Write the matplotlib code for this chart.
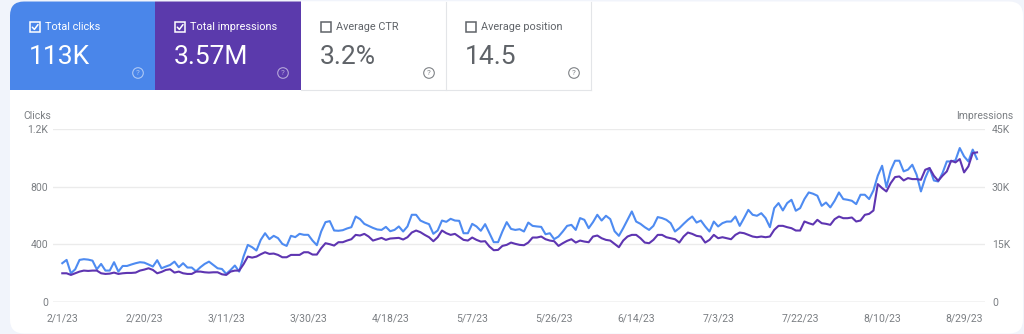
import matplotlib.pyplot as plt
import pandas as pd
from matplotlib.patches import Circle, FancyBboxPatch, Rectangle

plt.rcParams["font.family"] = ["Roboto", "DejaVu Sans"]

# Daily performance, one value per day starting at START_DATE.
START_DATE = "2023-02-01"
CLICKS = [
    269, 292, 199, 227, 292, 297, 294, 287, 227, 264,
    218, 218, 276, 211, 250, 250, 260, 269, 276, 273,
    260, 246, 290, 234, 246, 257, 280, 241, 269, 239,
    239, 213, 241, 264, 280, 257, 234, 229, 195, 222,
    253, 211, 315, 396, 380, 357, 431, 477, 436, 459,
    443, 403, 389, 459, 450, 473, 466, 466, 426, 394,
    489, 554, 561, 496, 494, 498, 510, 519, 593, 575,
    542, 528, 514, 503, 500, 521, 491, 500, 524, 489,
    524, 605, 605, 565, 551, 540, 473, 496, 565, 556,
    577, 565, 563, 477, 477, 542, 524, 494, 540, 477,
    415, 415, 489, 554, 507, 500, 505, 489, 551, 528,
    524, 521, 470, 477, 436, 454, 489, 528, 535, 500,
    582, 570, 512, 554, 605, 565, 598, 575, 491, 459,
    512, 570, 628, 558, 542, 519, 500, 528, 589, 582,
    570, 547, 489, 512, 542, 570, 593, 551, 565, 524,
    489, 558, 524, 547, 558, 558, 593, 528, 582, 639,
    605, 598, 616, 582, 519, 651, 686, 635, 686, 709,
    633, 651, 714, 760, 751, 737, 667, 690, 656, 702,
    760, 714, 709, 702, 679, 744, 744, 714, 774, 876,
    945, 797, 913, 980, 980, 906, 918, 952, 883, 767,
    860, 929, 843, 836, 894, 975, 975, 982, 1068, 1010,
    975, 1057, 992,
]
IMPRESSIONS = [
    7470, 7470, 7040, 7470, 7910, 8170, 8080, 8170, 8170, 7470,
    7300, 7380, 7650, 7300, 7470, 7560, 7560, 7650, 8170, 8430,
    8770, 8340, 7470, 7820, 8340, 8510, 7650, 7910, 7470, 7300,
    7300, 7910, 7910, 7730, 7650, 7730, 7730, 7210, 7040, 7910,
    8170, 8170, 9820, 11810, 11550, 11810, 12420, 12940, 12510, 12600,
    12250, 11640, 11640, 12250, 12250, 12250, 12940, 12940, 12340, 12340,
    13990, 15290, 15030, 14680, 15550, 15550, 15980, 16330, 17460, 17290,
    17720, 17030, 15980, 16330, 16680, 16160, 16510, 16590, 16680, 16250,
    16850, 18070, 18590, 18160, 17460, 16850, 15810, 16850, 18590, 17900,
    17460, 17720, 16940, 16160, 15980, 16770, 16160, 15720, 15810, 14420,
    13470, 13550, 14590, 14860, 15460, 15120, 14860, 14770, 15460, 16770,
    16770, 17030, 16330, 15980, 15810, 14590, 15290, 15900, 16330, 15460,
    15980, 15720, 15550, 17030, 17290, 16590, 16160, 15980, 15120, 14250,
    15980, 17030, 17460, 17460, 16590, 15460, 15290, 16160, 17460, 17460,
    16850, 16590, 16330, 15460, 17030, 18070, 17720, 17200, 17030, 15460,
    16160, 17460, 16590, 16850, 16590, 16330, 17460, 18070, 17900, 17460,
    17030, 16850, 17030, 16850, 17030, 18760, 19810, 19810, 19460, 19200,
    18590, 18590, 20940, 20500, 20150, 21370, 20500, 20330, 20070, 21540,
    22240, 21800, 21800, 21980, 20940, 21200, 22670, 22930, 23800, 30670,
    29620, 28750, 30930, 32490, 32660, 31620, 32230, 31970, 31970, 31790,
    34400, 34840, 32840, 31530, 32840, 33970, 36750, 36310, 37180, 33710,
    35270, 38740, 38920,
]

CARD_TITLES = ["Total clicks", "Total impressions", "Average CTR", "Average position"]
CARD_VALUES = ["113K", "3.57M", "3.2%", "14.5"]
CARD_SELECTED = [True, True, False, False]

CLICK_TICKS = [0, 400, 800, 1200]
CLICK_TICK_LABELS = ["0", "400", "800", "1.2K"]
IMPR_TICKS = [0, 15000, 30000, 45000]
IMPR_TICK_LABELS = ["0", "15K", "30K", "45K"]
TICK_EVERY_DAYS = 19

W, H = 1024, 334
PAGE_BG = "#f1f4fb"
CLICK_COLOR = "#4e8bf1"
IMPR_COLOR = "#5e35b1"
CARD_FILLS = ["#4a86ea", "#5b3aac", "white", "white"]
TILE_EDGES = [10, 155, 301, 446, 591]
TILE_BOTTOM = 90
GREY_TEXT = "#5f6368"
AXIS_TEXT = "#7b7f83"
TICK_SIZE = 7.5


def _draw_tile(bg, card, k):
    x0, x1 = TILE_EDGES[k], TILE_EDGES[k + 1]
    filled = CARD_FILLS[k] != "white"
    fg = "white" if filled else GREY_TEXT

    tile = Rectangle((x0, 0), x1 - x0, TILE_BOTTOM, fc=CARD_FILLS[k], ec="none", zorder=1)
    bg.add_patch(tile)
    tile.set_clip_path(card)

    # checkbox, ticked for the metrics currently plotted
    bg.add_patch(Rectangle((x0 + 20, 22), 10, 10, fill=False, ec=fg, lw=1.1, zorder=2))
    if CARD_SELECTED[k]:
        bg.plot([x0 + 22.3, x0 + 24.4, x0 + 28.0], [27.2, 29.4, 24.6],
                color=fg, lw=1.1, solid_capstyle="round", zorder=3)

    bg.text(x0 + 35, 27, CARD_TITLES[k], color=fg, fontsize=7.8,
            ha="left", va="center", zorder=3)
    bg.text(x0 + 18.5, 56.5, CARD_VALUES[k], color=fg, fontsize=19,
            ha="left", va="center", zorder=3)

    # help icon
    icon_alpha = 0.55 if filled else 0.8
    bg.add_patch(Circle((x0 + 128, 73), 5.3, fill=False, ec=fg, lw=0.8,
                        alpha=icon_alpha, zorder=3))
    bg.text(x0 + 128, 73.3, "?", color=fg, alpha=icon_alpha, fontsize=5.8,
            ha="center", va="center", zorder=3)


fig = plt.figure(figsize=(W / 100, H / 100), dpi=100)
fig.patch.set_facecolor(PAGE_BG)

bg = fig.add_axes([0, 0, 1, 1])
bg.set_xlim(0, W)
bg.set_ylim(H, 0)
bg.axis("off")

card = FancyBboxPatch((10, 1.5), 1013, 332, boxstyle="round,pad=0,rounding_size=14",
                      fc="white", ec="none", zorder=0)
bg.add_patch(card)

for k in range(len(CARD_TITLES)):
    _draw_tile(bg, card, k)

# borders around the unselected tiles
border = "#e3e5e8"
bg.plot([446, 446], [1.5, TILE_BOTTOM], color=border, lw=0.8, zorder=2)
bg.plot([591, 591], [1.5, TILE_BOTTOM], color=border, lw=0.8, zorder=2)
bg.plot([301, 591], [TILE_BOTTOM, TILE_BOTTOM], color=border, lw=0.8, zorder=2)

bg.text(23, 115.7, "Clicks", color=AXIS_TEXT, fontsize=TICK_SIZE, ha="left", va="center")
bg.text(1013, 115.7, "Impressions", color=AXIS_TEXT, fontsize=TICK_SIZE, ha="right", va="center")

# chart area
ax = fig.add_axes([53 / W, 1 - 302 / H, 932 / W, 173 / H])
ax.patch.set_alpha(0)
ax2 = ax.twinx()

dates = pd.date_range(START_DATE, periods=len(CLICKS), freq="D")

for y in CLICK_TICKS[1:]:
    ax.axhline(y, color="#ebebeb", lw=1.0, zorder=0)
ax.axhline(0, color="#c6c6c6", lw=1.0, zorder=0)

ax.plot(dates, CLICKS, color=CLICK_COLOR, lw=1.5, solid_joinstyle="round")
ax2.plot(dates, IMPRESSIONS, color=IMPR_COLOR, lw=1.5, solid_joinstyle="round")

ax.set_xlim(dates[0] - pd.Timedelta(days=2.15), dates[-1] + pd.Timedelta(days=1.85))
ax.set_ylim(0, CLICK_TICKS[-1])
ax2.set_ylim(0, IMPR_TICKS[-1])

tick_dates = dates[::TICK_EVERY_DAYS]
ax.set_xticks(tick_dates)
ax.set_xticklabels([f"{d.month}/{d.day}/{d:%y}" for d in tick_dates])
ax.set_yticks(CLICK_TICKS)
ax.set_yticklabels(CLICK_TICK_LABELS)
ax2.set_yticks(IMPR_TICKS)
ax2.set_yticklabels(IMPR_TICK_LABELS)

ax.tick_params(axis="x", length=0, pad=8.2, labelsize=TICK_SIZE, labelcolor=AXIS_TEXT)
ax.tick_params(axis="y", length=0, pad=3.6, labelsize=TICK_SIZE, labelcolor=AXIS_TEXT)
ax2.tick_params(axis="y", length=0, pad=5.0, labelsize=TICK_SIZE, labelcolor=AXIS_TEXT)

for a in (ax, ax2):
    for spine in a.spines.values():
        spine.set_visible(False)

fig.savefig("out.png", dpi=100, facecolor=fig.get_facecolor())
